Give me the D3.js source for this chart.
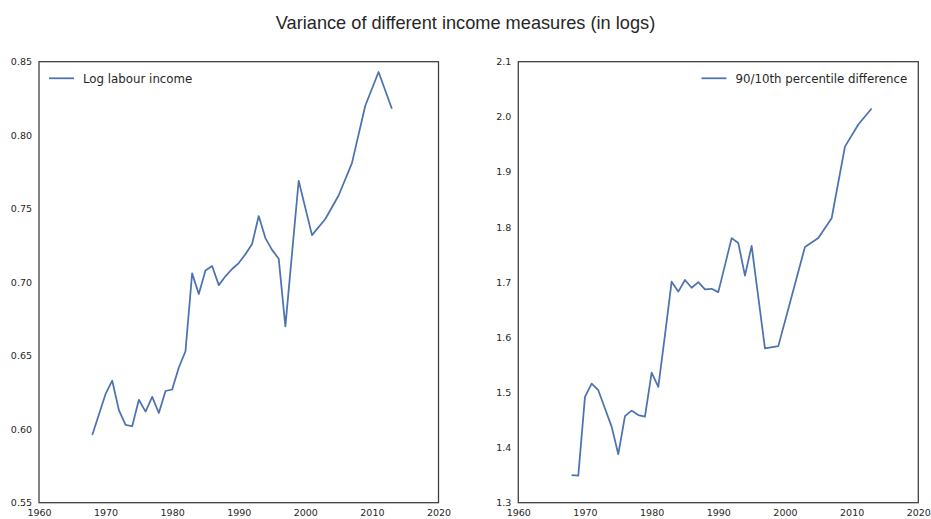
<!DOCTYPE html>
<html><head><meta charset="utf-8">
<script src="https://cdn.jsdelivr.net/npm/d3@7"></script>
<style>body{margin:0;background:#fff}</style>
</head><body>
<svg id="c" width="931" height="519"></svg>
<script>
const years = [1968,1969,1970,1971,1972,1973,1974,1975,1976,1977,1978,1979,1980,1981,1982,1983,1984,1985,1986,1987,1988,1989,1990,1991,1992,1993,1994,1995,1996,1997,1999,2001,2003,2005,2007,2009,2011,2013];
const logLabourIncome = [0.596,0.610,0.624,0.633,0.613,0.603,0.602,0.620,0.612,0.622,0.611,0.626,0.627,0.642,0.653,0.706,0.692,0.708,0.711,0.698,0.704,0.709,0.713,0.719,0.726,0.745,0.730,0.722,0.716,0.670,0.769,0.732,0.743,0.759,0.781,0.820,0.843,0.818];
const pctDiff9010 = [1.350,1.349,1.492,1.516,1.504,1.471,1.438,1.388,1.457,1.467,1.459,1.456,1.536,1.510,1.604,1.701,1.683,1.704,1.690,1.700,1.687,1.688,1.682,1.731,1.780,1.771,1.712,1.766,1.673,1.580,1.584,1.674,1.764,1.780,1.816,1.946,1.986,2.015];
const xTicks = [1960,1970,1980,1990,2000,2010,2020];
const yTicksLeft = [0.55,0.60,0.65,0.70,0.75,0.80,0.85];
const yTicksRight = [1.3,1.4,1.5,1.6,1.7,1.8,1.9,2.0,2.1];
const title = "Variance of different income measures (in logs)";
const legendLeft = "Log labour income";
const legendRight = "90/10th percentile difference";

const svg = d3.select("#c");
const plotTop = 61.7, plotBottom = 502.7;
const col = "#4C72B0", frame = "#3a3a3a", txt = "#262626";

svg.append("text").attr("x", 465.5).attr("y", 28.5).attr("text-anchor","middle")
  .attr("font-family","Liberation Sans, Arial, sans-serif").attr("font-size",18.2).attr("fill",txt).text(title);

function panel(left, right, yDomain, yTicks, fmt, values, label, legendRightAlign) {
  const x = d3.scaleLinear().domain([1960,2020]).range([left,right]);
  const y = d3.scaleLinear().domain(yDomain).range([plotBottom,plotTop]);
  const g = svg.append("g");
  const xa = g.append("g").attr("transform",`translate(0,${plotBottom})`)
    .call(d3.axisBottom(x).tickValues(xTicks).tickFormat(d3.format("d")).tickSize(0).tickPadding(7));
  const ya = g.append("g").attr("transform",`translate(${left},0)`)
    .call(d3.axisLeft(y).tickValues(yTicks).tickFormat(d3.format(fmt)).tickSize(0).tickPadding(7));
  [xa,ya].forEach(a=>{a.select(".domain").remove();
    a.selectAll("text").attr("font-family","DejaVu Sans, sans-serif").attr("font-size",9.5).attr("fill",txt);});
  g.append("path").datum(values).attr("fill","none").attr("stroke",col).attr("stroke-width",1.75)
    .attr("stroke-linejoin","round")
    .attr("d", d3.line().x((d,i)=>x(years[i])).y(d=>y(d)));
  g.append("rect").attr("x",left).attr("y",plotTop).attr("width",right-left).attr("height",plotBottom-plotTop)
    .attr("fill","none").attr("stroke",frame).attr("stroke-width",1.25);
  const lg = g.append("g");
  const t = lg.append("text").attr("y",78.5).attr("dy","0.35em")
    .attr("font-family","DejaVu Sans, sans-serif").attr("font-size",11.8).attr("fill",txt).text(label);
  let tx;
  if (legendRightAlign) {
    const w = t.node().getComputedTextLength();
    tx = right - 11 - w;
  } else tx = left + 44;
  t.attr("x", tx);
  lg.append("line").attr("x1",tx-34).attr("x2",tx-9).attr("y1",78.3).attr("y2",78.3)
    .attr("stroke",col).attr("stroke-width",1.75);
}
panel(39, 438.5, [0.55,0.85], yTicksLeft, ".2f", logLabourIncome, legendLeft, false);
panel(518.3, 918.3, [1.3,2.1], yTicksRight, ".1f", pctDiff9010, legendRight, true);
</script>
</body></html>
